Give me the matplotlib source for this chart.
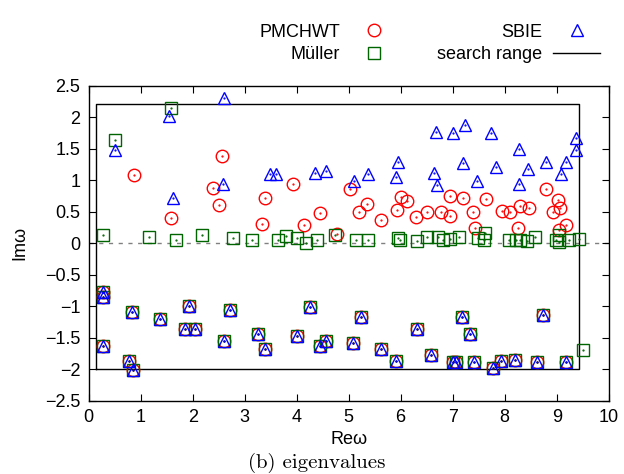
import matplotlib
matplotlib.use('Agg')
import matplotlib.pyplot as plt

# eigenvalues in the upper half plane
pm_re = [0.87, 1.58, 2.39, 2.56, 2.50, 3.34, 3.40, 3.93, 4.15, 4.45, 4.77, 5.02, 5.20,
         5.35, 5.63, 5.92, 6.00, 6.12, 6.29, 6.50, 6.77, 6.95, 6.95, 7.20, 7.40, 7.43,
         7.65, 7.95, 8.10, 8.26, 8.29, 8.47, 8.79, 8.92, 9.03, 9.06, 9.05, 9.17]
pm_im = [1.08, 0.40, 0.88, 1.38, 0.60, 0.30, 0.72, 0.94, 0.28, 0.47, 0.15, 0.86, 0.49,
         0.62, 0.36, 0.53, 0.73, 0.66, 0.42, 0.50, 0.50, 0.74, 0.43, 0.72, 0.49, 0.235,
         0.70, 0.51, 0.49, 0.235, 0.58, 0.55, 0.85, 0.49, 0.69, 0.56, 0.21, 0.28]

sb_re = [0.50, 1.54, 1.62, 2.60, 2.59, 3.49, 3.61, 4.35, 4.56, 5.10, 5.37, 5.91, 5.95,
         6.68, 6.65, 6.69, 7.01, 7.24, 7.20, 7.47, 7.74, 7.83, 8.27, 8.28, 8.44, 8.80,
         9.09, 9.17, 9.37, 9.38]
sb_im = [1.48, 2.01, 0.72, 2.30, 0.93, 1.10, 1.09, 1.11, 1.15, 0.99, 1.10, 1.04, 1.29,
         1.77, 1.11, 0.92, 1.75, 1.87, 1.27, 0.98, 1.75, 1.20, 1.50, 0.94, 1.18, 1.28,
         1.10, 1.29, 1.67, 1.47]

mu_re = [0.27, 0.51, 1.59, 1.17, 1.68, 2.18, 2.78, 3.14, 3.64, 3.80, 4.01, 4.18, 4.40,
         4.74, 5.15, 5.37, 5.95, 5.99, 6.31, 6.50, 6.71, 6.81, 6.95, 7.12, 7.48, 7.63,
         7.61, 8.08, 8.22, 8.29, 8.42, 8.58, 8.98, 9.04, 9.04, 9.23, 9.42, 9.50]
mu_im = [0.135, 1.63, 2.14, 0.10, 0.05, 0.135, 0.08, 0.05, 0.05, 0.11, 0.08, 0.00, 0.05,
         0.135, 0.055, 0.055, 0.08, 0.05, 0.035, 0.10, 0.10, 0.04, 0.06, 0.10, 0.08, 0.155,
         0.04, 0.05, 0.05, 0.05, 0.03, 0.09, 0.05, 0.135, 0.01, 0.05, 0.07, -1.70]

# eigenvalues in the lower half plane, found by all three formulations
low_re = [0.27, 0.28, 0.28, 0.83, 0.78, 0.85, 1.37, 1.93, 1.86, 2.04, 2.72, 2.61, 3.26,
          3.40, 4.00, 4.26, 4.45, 4.56, 5.08, 5.24, 5.62, 5.91, 6.31, 6.59, 7.00, 7.06,
          7.17, 7.34, 7.41, 7.77, 7.92, 8.19, 8.73, 8.62, 9.18]
low_im = [-0.77, -0.86, -1.63, -1.09, -1.87, -2.01, -1.21, -1.00, -1.36, -1.36, -1.06,
          -1.56, -1.45, -1.68, -1.48, -1.01, -1.63, -1.56, -1.59, -1.17, -1.69, -1.87,
          -1.37, -1.77, -1.89, -1.89, -1.17, -1.45, -1.89, -1.98, -1.87, -1.85, -1.15,
          -1.89, -1.89]

# search range box
search_re = [0.15, 9.43]
search_im = [-2.0, 2.21]

plt.rcParams['font.family'] = ['Liberation Sans', 'DejaVu Sans']
plt.rcParams['font.size'] = 13

fig = plt.figure(figsize=(6.24, 4.74), dpi=100)
ax = fig.add_axes([0.142, 0.155, 0.8335, 0.6646])

ax.axhline(0, color='#808080', lw=1, ls=(0, (3, 4)), zorder=1)

series = [
    ('PMCHWT', pm_re + low_re, pm_im + low_im, 'o', '#ff0000', 9),
    ('Müller', mu_re + low_re, mu_im + low_im, 's', '#006400', 9),
    ('SBIE', sb_re + low_re, sb_im + low_im, '^', '#0000ff', 9),
]
handles = {}
for name, xs, ys, mk, col, ms in series:
    h, = ax.plot(xs, ys, ls='none', marker=mk, ms=ms, mfc='none', mec=col,
                 mew=1.0, label=name, zorder=3)
    ax.plot(xs, ys, ls='none', marker='.', ms=1.2, color=col, zorder=3)
    handles[name] = h

x0, x1 = search_re
y0, y1 = search_im
rect, = ax.plot([x0, x1, x1, x0, x0], [y0, y0, y1, y1, y0], color='black', lw=1,
                label='search range', zorder=2)

ax.set_xlim(0, 10)
ax.set_ylim(-2.5, 2.5)
ax.set_xticks(range(0, 11))
ax.set_yticks([-2.5, -2, -1.5, -1, -0.5, 0, 0.5, 1, 1.5, 2, 2.5])
ax.set_yticklabels(['−2.5', '−2', '−1.5', '−1', '−0.5', '0', '0.5', '1', '1.5', '2', '2.5'])
ax.tick_params(direction='in', top=True, right=True, length=5, width=0.8, pad=6)
for sp in ax.spines.values():
    sp.set_linewidth(1.0)

ax.set_xlabel('Reω', labelpad=4)
ax.set_ylabel('Imω', labelpad=12)

order = ['PMCHWT', 'Müller', 'SBIE']
leg_handles = [handles[n] for n in order] + [rect]
leg_labels = order + ['search range']
fig.legend(leg_handles, leg_labels, ncol=2, markerfirst=False, frameon=False,
           loc='upper right', bbox_to_anchor=(0.962, 0.95), borderaxespad=0,
           borderpad=0, handlelength=2.6, handletextpad=0.6, columnspacing=2.2,
           labelspacing=0.3)

fig.text(0.507, 0.024, '(b) eigenvalues', ha='center', va='center',
         family='cmr10', fontsize=15)

fig.savefig('out.png', dpi=100)
